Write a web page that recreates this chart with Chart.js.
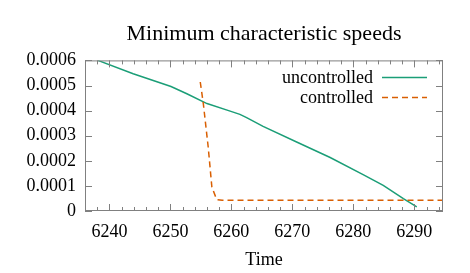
<!DOCTYPE html>
<html>
<head>
<meta charset="utf-8">
<script src="https://cdn.jsdelivr.net/npm/chart.js@4/dist/chart.umd.min.js"></script>
<style>
  body { margin: 0; background: #fff; }
  #wrap { width: 470px; height: 273px; }
</style>
</head>
<body>
<div id="wrap"><canvas id="chartSpeeds" width="470" height="273"></canvas></div>
<script>
const uncontrolled_x = [6238.1, 6243.9, 6250.1, 6252.7, 6256.0, 6259.8, 6261.4, 6262.5, 6265.2, 6270.7, 6276.2, 6281.6, 6284.9, 6288.2, 6290.4];
const uncontrolled_y = [0.000600, 0.000547, 0.000496, 0.000467, 0.000428, 0.000398, 0.000385, 0.000372, 0.000337, 0.000275, 0.000213, 0.000145, 0.000102, 0.000049, 0.000016];
const controlled_x = [6254.9, 6255.4, 6256.2, 6256.8, 6257.6, 6258.5, 6294.7];
const controlled_y = [0.000514, 0.000428, 0.000255, 0.0000955, 0.0000454, 0.0000430, 0.0000430];
const serie_labels = ['uncontrolled', 'controlled'];
const serie_colores = ['#1b9e77', '#d95f02'];
const titulo = 'Minimum characteristic speeds';
const titulo_x = 'Time';

const fuente = '"Liberation Serif", "Times New Roman", serif';
const toPts = (xs, ys) => xs.map((x, i) => ({ x: x, y: ys[i] }));

const chartEl = document.getElementById('chartSpeeds');

const marco = {
    id: 'marco',
    afterDatasetsDraw(chart) {
        const { ctx, chartArea: a, scales } = chart;
        ctx.save();
        ctx.strokeStyle = '#808080';
        ctx.lineWidth = 1;
        ctx.strokeRect(a.left + 0.5, a.top + 0.5, a.right - a.left - 1, a.bottom - a.top - 1);
        ctx.beginPath();
        // x ticks (major every 10, minor every 2), inward, top and bottom
        for (let v = Math.ceil(scales.x.min / 2) * 2; v <= scales.x.max; v += 2) {
            const px = Math.round(scales.x.getPixelForValue(v)) + 0.5;
            const len = v % 10 === 0 ? 7 : 4;
            ctx.moveTo(px, a.bottom); ctx.lineTo(px, a.bottom - len);
            ctx.moveTo(px, a.top); ctx.lineTo(px, a.top + len);
        }
        // y ticks, inward, left and right
        scales.y.ticks.forEach(t => {
            const py = Math.round(scales.y.getPixelForValue(t.value)) + 0.5;
            ctx.moveTo(a.left, py); ctx.lineTo(a.left + 7, py);
            ctx.moveTo(a.right, py); ctx.lineTo(a.right - 7, py);
        });
        ctx.stroke();

        // legend: text right aligned, sample on the right
        ctx.font = '18px ' + fuente;
        ctx.textAlign = 'right';
        ctx.textBaseline = 'middle';
        chart.data.datasets.forEach((ds, i) => {
            const y = a.top + 17 + i * 20;
            ctx.fillStyle = '#000';
            ctx.fillText(ds.label, a.right - 70, y + 1);
            ctx.strokeStyle = ds.borderColor;
            ctx.lineWidth = 1.5;
            ctx.setLineDash(ds.borderDash || []);
            ctx.beginPath();
            ctx.moveTo(a.right - 61, y);
            ctx.lineTo(a.right - 16, y);
            ctx.stroke();
            ctx.setLineDash([]);
        });
        ctx.restore();
    }
};

const chart = new Chart(chartEl, {
    type: 'line',
    data: {
        datasets: [
            {
                label: serie_labels[0],
                data: toPts(uncontrolled_x, uncontrolled_y),
                borderColor: serie_colores[0],
                borderWidth: 1.5,
                pointRadius: 0,
                tension: 0,
                order: 2
            },
            {
                label: serie_labels[1],
                data: toPts(controlled_x, controlled_y),
                borderColor: serie_colores[1],
                borderWidth: 1.5,
                borderDash: [6, 4],
                pointRadius: 0,
                tension: 0,
                order: 1
            }
        ]
    },
    options: {
        responsive: false,
        animation: false,
        layout: { padding: { top: 0, left: 0, right: 27, bottom: 0 } },
        plugins: {
            legend: { display: false },
            tooltip: { enabled: false },
            title: {
                display: true,
                text: titulo,
                align: 'center',
                fullSize: false,
                color: '#000',
                font: { family: fuente, size: 22, weight: 'normal' },
                padding: { top: 21, bottom: 13 }
            }
        },
        scales: {
            x: {
                type: 'linear',
                min: 6236, max: 6294.7,
                afterFit: s => { s.height = 62; },
                ticks: {
                    stepSize: 10, includeBounds: false,
                    color: '#000', padding: 10,
                    font: { family: fuente, size: 18 },
                    callback: v => String(v)
                },
                grid: { display: false, drawTicks: false },
                border: { display: false },
                title: {
                    display: true, text: titulo_x, color: '#000',
                    font: { family: fuente, size: 18 },
                    padding: { top: 0, bottom: 2 }
                }
            },
            y: {
                min: 0, max: 0.0006,
                afterFit: s => { s.width = 85; },
                ticks: {
                    stepSize: 0.0001, color: '#000', padding: 9,
                    font: { family: fuente, size: 18 },
                    callback: v => v === 0 ? '0' : v.toFixed(4)
                },
                grid: { display: false, drawTicks: false },
                border: { display: false }
            }
        }
    },
    plugins: [marco]
});
</script>
</body>
</html>
